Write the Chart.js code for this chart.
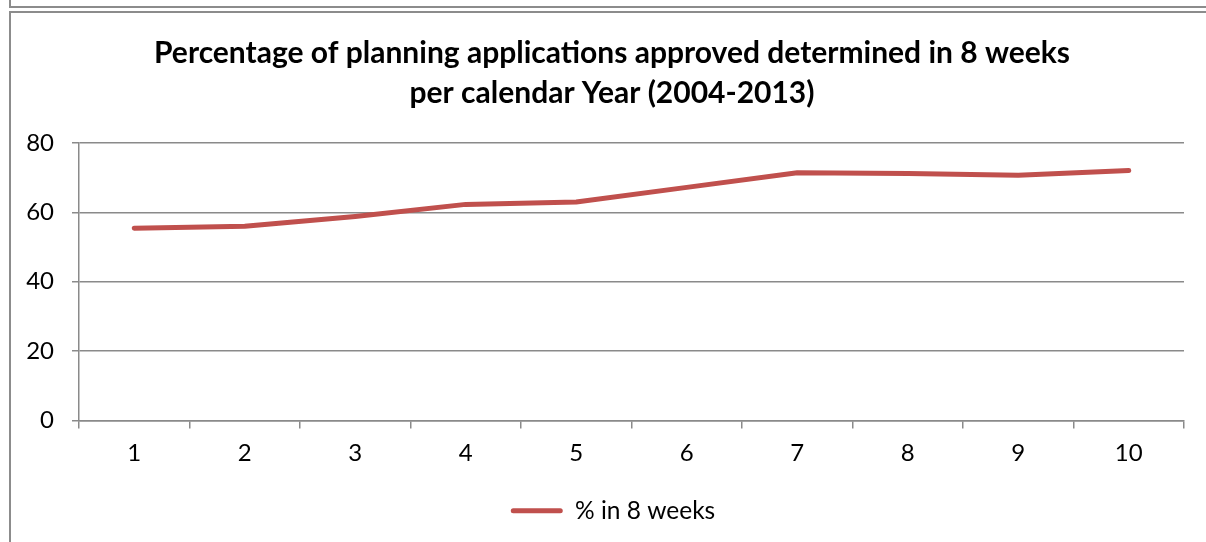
<!DOCTYPE html>
<html>
<head>
<meta charset="utf-8">
<script src="https://cdn.jsdelivr.net/npm/chart.js@4.4.0/dist/chart.umd.min.js"></script>
<style>
  body { margin: 0; background: #fff; overflow: hidden; }
  #wrap { position: relative; width: 1206px; height: 542px; }
  #boxTop { position: absolute; left: 9px; top: -20px; width: 1300px; height: 24px; border: 2px solid #8c8c8c; }
  #boxChart { position: absolute; left: 9px; top: 11px; width: 1300px; height: 600px; border: 2px solid #8c8c8c; }
  canvas { position: absolute; left: 0; top: 0; }
</style>
</head>
<body>
<div id="wrap">
  <div id="boxTop"></div>
  <div id="boxChart"></div>
  <canvas id="c" width="1206" height="542"></canvas>
</div>
<script>
// données
var categories = ['1', '2', '3', '4', '5', '6', '7', '8', '9', '10'];
var pctIn8Weeks = [55.4, 56.0, 58.8, 62.3, 63.0, 67.2, 71.4, 71.2, 70.7, 72.1];
var yTicks = [0, 20, 40, 60, 80];
var titleLines = ['Percentage of planning applications approved determined in 8 weeks', 'per calendar Year (2004-2013)'];
var seriesName = '% in 8 weeks';

var rouge = '#C0504D';
var gris = '#8a8a8a';

// petit décalage du titre et de la légende vers la droite (comme Excel)
var decale = {
  id: 'decale',
  afterUpdate: function(ch) {
    ch.legend.left += 15;
    ch.legend.right += 15;
    ch.titleBlock.left += 14;
    ch.titleBlock.right += 14;
  }
};

const chart = new Chart(document.getElementById('c'), {
  type: 'line',
  data: {
    labels: categories,
    datasets: [{
      label: seriesName,
      data: pctIn8Weeks,
      borderColor: rouge,
      backgroundColor: rouge,
      borderWidth: 5,
      borderCapStyle: 'round',
      borderJoinStyle: 'round',
      pointRadius: 0,
      tension: 0
    }]
  },
  plugins: [decale],
  options: {
    responsive: false,
    animation: false,
    devicePixelRatio: 1,
    layout: { padding: { left: 12, right: 22, top: 33, bottom: 9 } },
    plugins: {
      title: {
        display: true,
        text: titleLines,
        color: '#000',
        font: { family: 'Lato', size: 30, weight: 'bold', lineHeight: 1.333 },
        padding: { top: 0, bottom: 30 }
      },
      legend: {
        position: 'bottom',
        labels: {
          color: '#000',
          font: { family: 'Lato', size: 24.5 },
          boxWidth: 52,
          boxHeight: 5,
          padding: 10,
          generateLabels: function(ch) {
            var items = Chart.defaults.plugins.legend.labels.generateLabels(ch);
            items.forEach(function(it) { it.lineWidth = 0; it.borderRadius = 2.5; });
            return items;
          }
        }
      },
      tooltip: { enabled: false }
    },
    scales: {
      x: {
        offset: true,
        grid: { offset: true, drawOnChartArea: false, color: gris, lineWidth: 1.5, tickLength: 8 },
        border: { display: true, color: gris, width: 1.5 },
        ticks: { color: '#000', font: { family: 'Lato', size: 24 }, padding: 10, maxRotation: 0 },
        afterFit: function(s) { s.height = 68; }
      },
      y: {
        min: 0,
        max: 80,
        afterBuildTicks: function(s) { s.ticks = yTicks.map(function(v) { return { value: v }; }); },
        grid: { color: gris, lineWidth: 1.5, tickLength: 7 },
        border: { display: true, color: gris, width: 1.5 },
        ticks: { color: '#000', font: { family: 'Lato', size: 24 }, padding: 18 },
        afterFit: function(s) { s.width = 67; }
      }
    }
  }
});
</script>
</body>
</html>
